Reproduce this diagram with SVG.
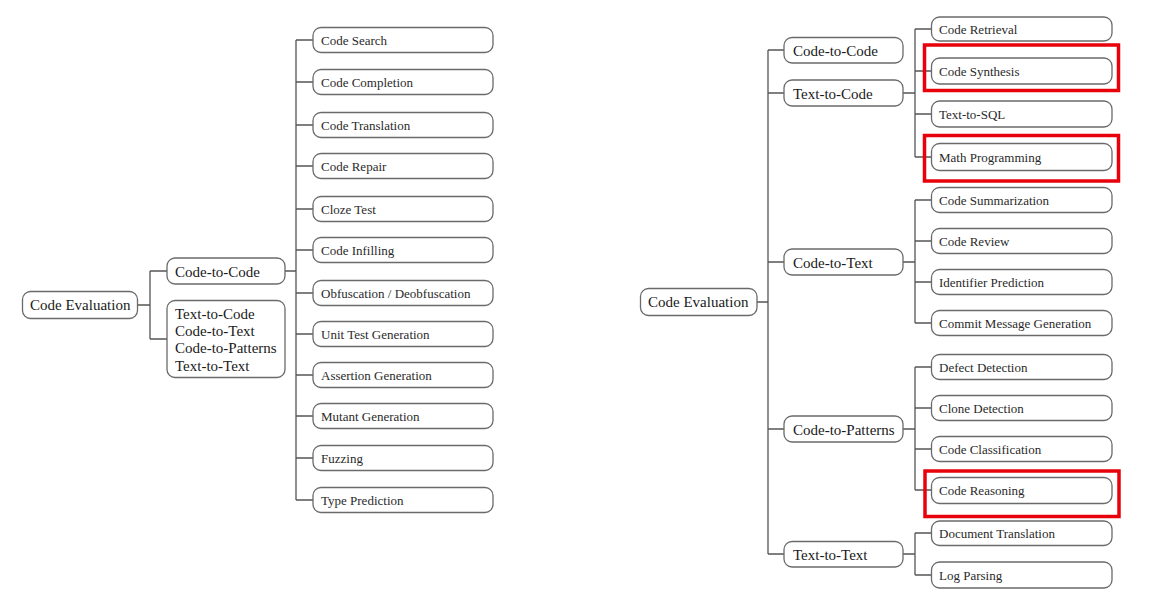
<svg xmlns="http://www.w3.org/2000/svg" width="1175" height="615" viewBox="0 0 1175 615">
<style>
.bx{fill:#fff;stroke:#6a6a6a;stroke-width:1.3}
.ln{fill:none;stroke:#555;stroke-width:1.3}
.hl{fill:none;stroke:#e8000b;stroke-width:3.5}
.t1{font-family:"Liberation Serif",serif;font-size:15px;fill:#1a1a1a}
.t2{font-family:"Liberation Serif",serif;font-size:13px;fill:#2a2a2a}
</style>
<rect width="1175" height="615" fill="#fff"/>
<g id="connectors">
<!-- left tree -->
<path class="ln" d="M137,305 H150 M150,271 V339 M150,271 H167 M150,339 H167"/>
<path class="ln" d="M285,271 H296 M296,40 V500"/>
<path class="ln" d="M296,40 H313 M296,82 H313 M296,125 H313 M296,166 H313 M296,209 H313 M296,250 H313 M296,293 H313 M296,334 H313 M296,375 H313 M296,416 H313 M296,458 H313 M296,500 H313"/>
<!-- right tree -->
<path class="ln" d="M757,302 H768 M768,50 V554 M768,50 H784 M768,93 H784 M768,262 H784 M768,429 H784 M768,554 H784"/>
<path class="ln" d="M903,93 H915 M915,29 V157 M915,29 H931 M915,71 H931 M915,114 H931 M915,157 H931"/>
<path class="ln" d="M903,262 H915 M915,200 V323 M915,200 H931 M915,241 H931 M915,282 H931 M915,323 H931"/>
<path class="ln" d="M903,429 H915 M915,367 V490 M915,367 H931 M915,408 H931 M915,449 H931 M915,490 H931"/>
<path class="ln" d="M903,554 H915 M915,533 V575 M915,533 H931 M915,575 H931"/>
</g>

<!-- Left tree nodes -->
<g id="L-root"><rect class="bx" x="22.5" y="291.5" width="115" height="27" rx="8"/><text class="t1" x="30" y="310">Code Evaluation</text></g>
<g id="L-c2c"><rect class="bx" x="167" y="258" width="118" height="26" rx="8"/><text class="t1" x="175" y="276.5">Code-to-Code</text></g>
<g id="L-others"><rect class="bx" x="167" y="300.5" width="118" height="77" rx="8"/>
<text class="t1" x="175" y="318.5">Text-to-Code</text>
<text class="t1" x="175" y="336">Code-to-Text</text>
<text class="t1" x="175" y="353">Code-to-Patterns</text>
<text class="t1" x="175" y="370.5">Text-to-Text</text></g>

<g id="L-search"><rect class="bx" x="313" y="27.5" width="180" height="25" rx="8"/><text class="t2" x="321" y="44.5">Code Search</text></g>
<g id="L-completion"><rect class="bx" x="313" y="69.5" width="180" height="25" rx="8"/><text class="t2" x="321" y="86.5">Code Completion</text></g>
<g id="L-translation"><rect class="bx" x="313" y="112.5" width="180" height="25" rx="8"/><text class="t2" x="321" y="129.5">Code Translation</text></g>
<g id="L-repair"><rect class="bx" x="313" y="153.5" width="180" height="25" rx="8"/><text class="t2" x="321" y="170.5">Code Repair</text></g>
<g id="L-cloze"><rect class="bx" x="313" y="196.5" width="180" height="25" rx="8"/><text class="t2" x="321" y="213.5">Cloze Test</text></g>
<g id="L-infilling"><rect class="bx" x="313" y="237.5" width="180" height="25" rx="8"/><text class="t2" x="321" y="254.5">Code Infilling</text></g>
<g id="L-obf"><rect class="bx" x="313" y="280.5" width="180" height="25" rx="8"/><text class="t2" x="321" y="297.5">Obfuscation / Deobfuscation</text></g>
<g id="L-unittest"><rect class="bx" x="313" y="321.5" width="180" height="25" rx="8"/><text class="t2" x="321" y="338.5">Unit Test Generation</text></g>
<g id="L-assertion"><rect class="bx" x="313" y="362.5" width="180" height="25" rx="8"/><text class="t2" x="321" y="379.5">Assertion Generation</text></g>
<g id="L-mutant"><rect class="bx" x="313" y="403.5" width="180" height="25" rx="8"/><text class="t2" x="321" y="420.5">Mutant Generation</text></g>
<g id="L-fuzzing"><rect class="bx" x="313" y="445.5" width="180" height="25" rx="8"/><text class="t2" x="321" y="462.5">Fuzzing</text></g>
<g id="L-type"><rect class="bx" x="313" y="487.5" width="180" height="25" rx="8"/><text class="t2" x="321" y="504.5">Type Prediction</text></g>

<!-- Right tree nodes -->
<g id="R-root"><rect class="bx" x="640.5" y="288.5" width="116.5" height="27" rx="8"/><text class="t1" x="648" y="307">Code Evaluation</text></g>
<g id="R-c2c"><rect class="bx" x="784" y="37.5" width="119" height="25.5" rx="8"/><text class="t1" x="793" y="55.5">Code-to-Code</text></g>
<g id="R-t2c"><rect class="bx" x="784" y="80" width="119" height="26" rx="8"/><text class="t1" x="793" y="98.5">Text-to-Code</text></g>
<g id="R-c2t"><rect class="bx" x="784" y="249" width="119" height="26" rx="8"/><text class="t1" x="793" y="267.5">Code-to-Text</text></g>
<g id="R-c2p"><rect class="bx" x="784" y="416" width="119" height="26" rx="8"/><text class="t1" x="793" y="434.5">Code-to-Patterns</text></g>
<g id="R-t2t"><rect class="bx" x="784" y="541.5" width="119" height="25.5" rx="8"/><text class="t1" x="793" y="559.5">Text-to-Text</text></g>

<g id="R-retrieval"><rect class="bx" x="931.5" y="17" width="180.5" height="24" rx="8"/><text class="t2" x="939" y="33.5">Code Retrieval</text></g>
<g id="R-synthesis"><rect class="bx" x="931.5" y="58" width="180.5" height="26" rx="8"/><text class="t2" x="939" y="75.5">Code Synthesis</text><rect class="hl" x="924.5" y="45" width="194" height="45.5"/></g>
<g id="R-sql"><rect class="bx" x="931.5" y="101" width="180.5" height="26" rx="8"/><text class="t2" x="939" y="118.5">Text-to-SQL</text></g>
<g id="R-math"><rect class="bx" x="931.5" y="143.5" width="180.5" height="27" rx="8"/><text class="t2" x="939" y="161.5">Math Programming</text><rect class="hl" x="924.5" y="135.5" width="194" height="45.5"/></g>
<g id="R-summ"><rect class="bx" x="931.5" y="187.5" width="180.5" height="25" rx="8"/><text class="t2" x="939" y="204.5">Code Summarization</text></g>
<g id="R-review"><rect class="bx" x="931.5" y="228.5" width="180.5" height="25" rx="8"/><text class="t2" x="939" y="245.5">Code Review</text></g>
<g id="R-ident"><rect class="bx" x="931.5" y="269.5" width="180.5" height="25" rx="8"/><text class="t2" x="939" y="286.5">Identifier Prediction</text></g>
<g id="R-commit"><rect class="bx" x="931.5" y="310.5" width="180.5" height="25" rx="8"/><text class="t2" x="939" y="327.5">Commit Message Generation</text></g>
<g id="R-defect"><rect class="bx" x="931.5" y="354.5" width="180.5" height="25" rx="8"/><text class="t2" x="939" y="371.5">Defect Detection</text></g>
<g id="R-clone"><rect class="bx" x="931.5" y="395.5" width="180.5" height="25" rx="8"/><text class="t2" x="939" y="412.5">Clone Detection</text></g>
<g id="R-classif"><rect class="bx" x="931.5" y="436.5" width="180.5" height="25" rx="8"/><text class="t2" x="939" y="453.5">Code Classification</text></g>
<g id="R-reasoning"><rect class="bx" x="931.5" y="477.5" width="180.5" height="26" rx="8"/><text class="t2" x="939" y="494.5">Code Reasoning</text><rect class="hl" x="925" y="471" width="194" height="45.5"/></g>
<g id="R-doc"><rect class="bx" x="931.5" y="521" width="180.5" height="24.5" rx="8"/><text class="t2" x="939" y="537.5">Document Translation</text></g>
<g id="R-log"><rect class="bx" x="931.5" y="562" width="180.5" height="26" rx="8"/><text class="t2" x="939" y="579.5">Log Parsing</text></g>
</svg>
